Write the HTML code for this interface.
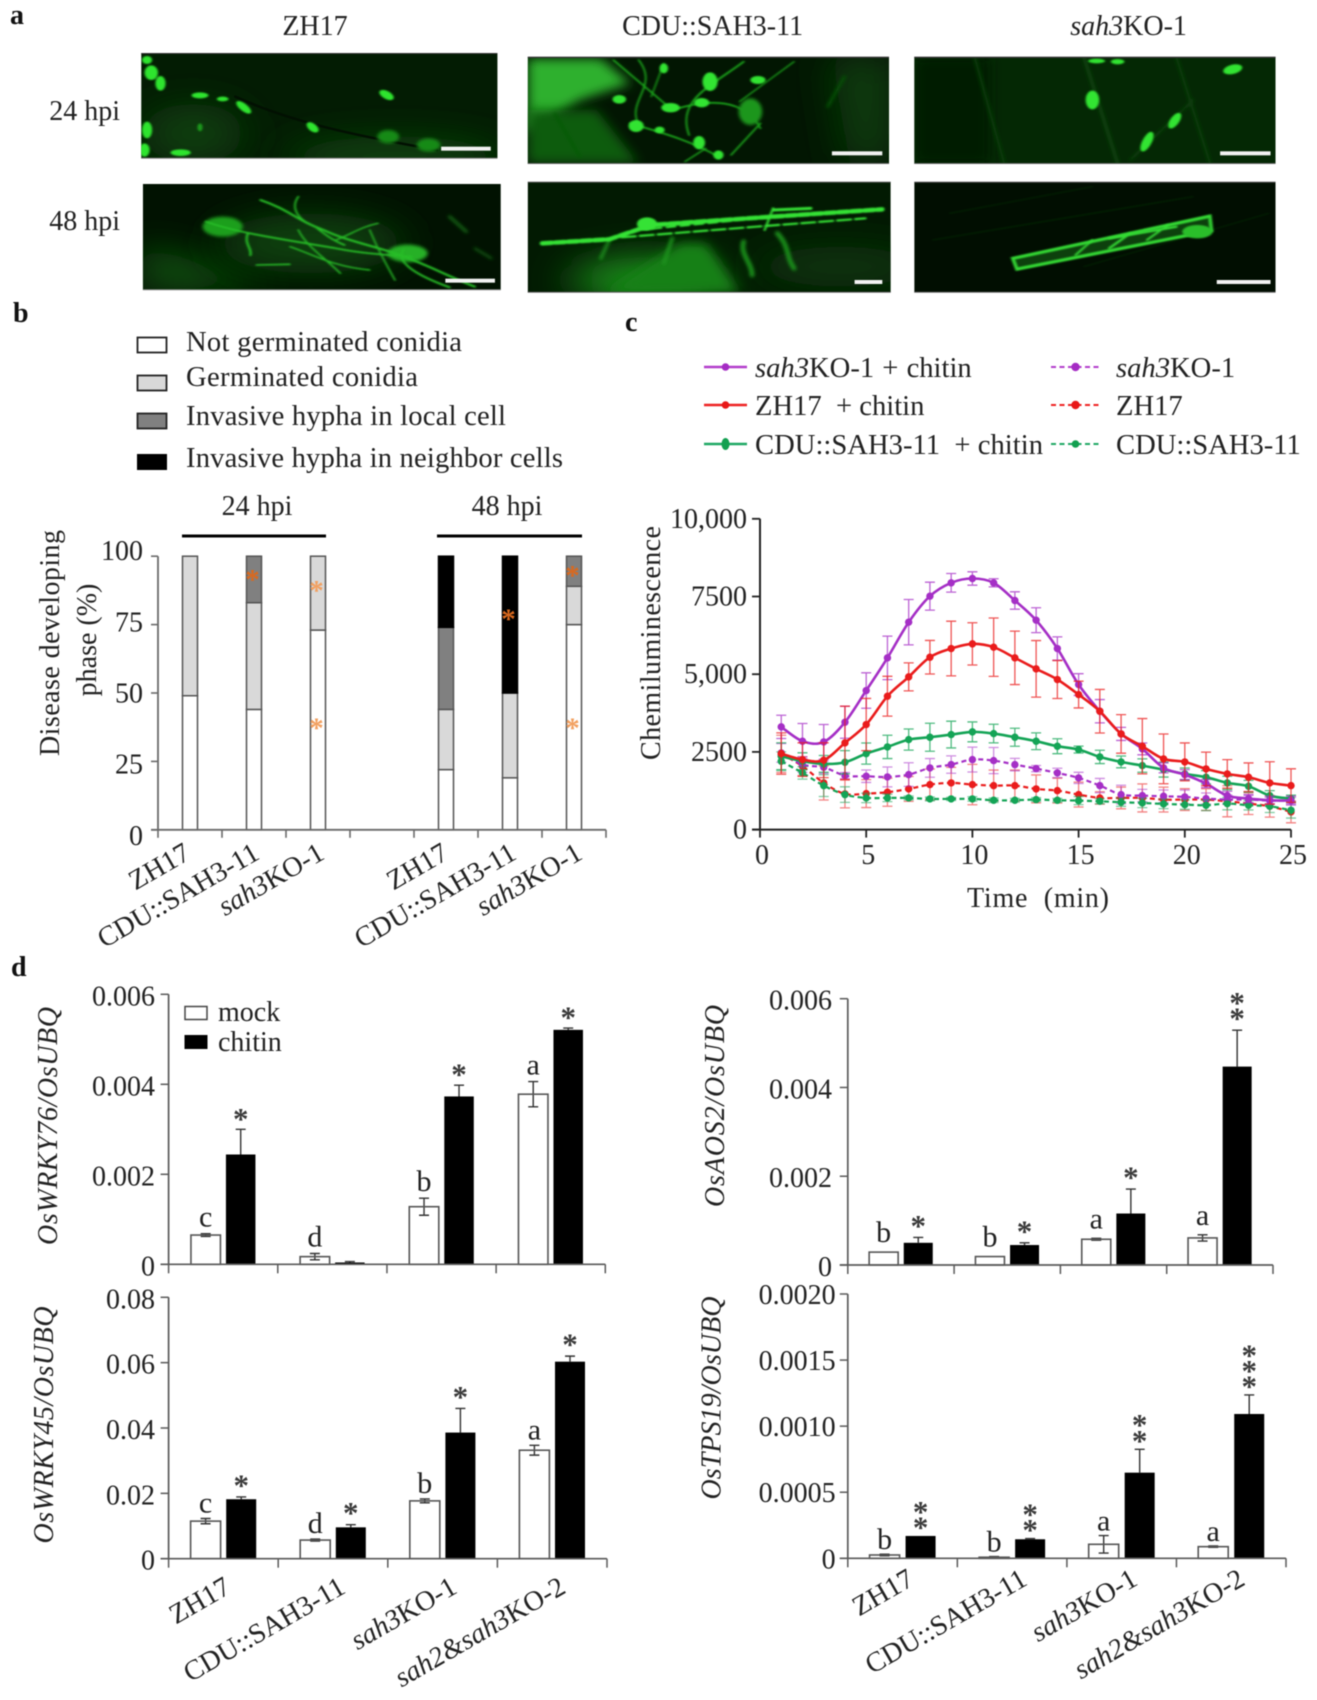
<!DOCTYPE html>
<html lang="en">
<head>
<meta charset="utf-8">
<title>Panels a-d figure</title>
<style>
html,body{margin:0;padding:0;background:#fff;}
svg{display:block;}
#figure{filter:blur(0.6px);font-family:"Liberation Serif","Noto Serif CJK SC",serif;fill:#222;}
text{font-size:28px;}
.bold{font-weight:bold;fill:#111;}
.lg{font-size:28.6px;}
.ms{vector-effect:non-scaling-stroke;fill:none;stroke-linecap:round;}
</style>
</head>
<body>
<svg id="figure" xmlns="http://www.w3.org/2000/svg" width="1317" height="1700" viewBox="0 0 1317 1700">
<defs>
<filter id="b0" x="-30%" y="-30%" width="160%" height="160%"><feGaussianBlur stdDeviation="1.2 2.6"/></filter>
<filter id="b1" x="-40%" y="-40%" width="180%" height="180%"><feGaussianBlur stdDeviation="2.2 5"/></filter>
<filter id="b2" x="-60%" y="-60%" width="220%" height="220%"><feGaussianBlur stdDeviation="7 16"/></filter>
<filter id="b3" x="-80%" y="-80%" width="260%" height="260%"><feGaussianBlur stdDeviation="26 50"/></filter>
<clipPath id="c1"><rect x="168" y="160" width="424" height="315"/></clipPath>
<clipPath id="c2"><rect x="628" y="172" width="430" height="319"/></clipPath>
<clipPath id="c3"><rect x="1088" y="172" width="430" height="319"/></clipPath>
<clipPath id="c4"><rect x="170" y="552" width="426" height="318"/></clipPath>
<clipPath id="c5"><rect x="628" y="547" width="432" height="330"/></clipPath>
<clipPath id="c6"><rect x="1088" y="547" width="430" height="330"/></clipPath>
</defs>
<rect width="1317" height="1700" fill="#fff"/>

<!-- Panel a -->
<g>
<text class="bold" x="10" y="24">a</text>
<text x="315" y="35" text-anchor="middle">ZH17</text>
<text x="712.6" y="35" text-anchor="middle">CDU::SAH3-11</text>
<text x="1128.6" y="35" text-anchor="middle"><tspan font-style="italic">sah3</tspan>KO-1</text>
<text x="120" y="120" text-anchor="end">24 hpi</text>
<text x="120" y="230" text-anchor="end">48 hpi</text>

<g transform="scale(0.8403,0.33333)">
<!-- image 1 -->
<g clip-path="url(#c1)">
<rect x="168" y="160" width="424" height="315" fill="#031c03"/>
<ellipse cx="470" cy="470" rx="130" ry="60" fill="#0a420a" filter="url(#b3)"/>
<ellipse cx="230" cy="400" rx="60" ry="90" fill="#0a3c0a" filter="url(#b3)"/>
<path class="ms" d="M280,290 C350,370 430,410 520,450" stroke="#021002" stroke-width="2.5"/>
<g fill="#2fe42f" filter="url(#b0)">
<ellipse cx="175" cy="180" rx="6" ry="12"/><ellipse cx="180" cy="218" rx="8" ry="22"/><ellipse cx="191" cy="250" rx="6" ry="22"/>
<ellipse cx="238" cy="286" rx="10" ry="9"/><ellipse cx="265" cy="297" rx="7" ry="7"/><ellipse cx="290" cy="322" rx="6" ry="20" transform="rotate(-20 290 322)"/>
<ellipse cx="460" cy="285" rx="7" ry="16" transform="rotate(-20 460 285)"/><ellipse cx="372" cy="382" rx="6" ry="16" transform="rotate(-15 372 382)"/>
<ellipse cx="175" cy="390" rx="6" ry="25"/><ellipse cx="172" cy="450" rx="6" ry="20"/><ellipse cx="215" cy="458" rx="12" ry="10"/>
</g>
<ellipse cx="238" cy="382" rx="3" ry="12" fill="#1a9a1a" filter="url(#b0)"/>
<g fill="#178a17" filter="url(#b1)"><ellipse cx="510" cy="435" rx="14" ry="20"/><ellipse cx="462" cy="410" rx="13" ry="20"/></g>
</g>
<rect x="168" y="159" width="424" height="3" fill="#333"/><rect x="168" y="473" width="424" height="3" fill="#777"/>
<rect x="525" y="440" width="59" height="12" fill="#f2f2f2"/>

<!-- image 2 -->
<g clip-path="url(#c2)">
<rect x="628" y="172" width="430" height="319" fill="#021602"/>
<polygon points="628,176 715,176 750,250 690,300 628,400" fill="#2fb02f" filter="url(#b2)"/>
<polygon points="628,330 710,330 760,490 628,490" fill="#0d5c0d" filter="url(#b2)"/>
<polygon points="990,172 1058,172 1058,490 1010,490" fill="#0a400a" filter="url(#b3)"/>
<g stroke="#1fb41f" filter="url(#b0)">
<path class="ms" stroke-width="1.5" d="M730,180 L800,330"/>
<path class="ms" stroke-width="1.6" d="M760,180 C785,260 745,300 760,375"/>
<path class="ms" stroke-width="1.8" d="M885,185 C845,260 805,300 820,405"/>
<path class="ms" stroke-width="1.6" d="M800,330 C845,295 885,295 905,385"/>
<path class="ms" stroke-width="1.6" d="M750,370 C790,400 820,420 855,470"/>
<path class="ms" stroke-width="1.2" d="M945,185 L880,305"/>
<path class="ms" stroke-width="1.6" d="M905,370 L870,465"/>
<path class="ms" stroke-width="1.3" d="M840,445 L815,485"/>
<path class="ms" stroke-width="1.3" d="M790,190 L775,290"/>
</g>
<g stroke="#0c5a0c" filter="url(#b1)"><path class="ms" stroke-width="2.5" d="M1005,230 L985,320"/><path class="ms" stroke-width="2" d="M660,340 L690,470"/></g>
<g fill="#33e433" filter="url(#b0)">
<ellipse cx="737" cy="298" rx="8" ry="13"/><ellipse cx="798" cy="323" rx="11" ry="14"/><ellipse cx="835" cy="308" rx="9" ry="14"/>
<ellipse cx="845" cy="245" rx="9" ry="28"/><ellipse cx="902" cy="240" rx="9" ry="12"/><ellipse cx="757" cy="378" rx="9" ry="18"/>
<ellipse cx="832" cy="428" rx="7" ry="20"/><ellipse cx="855" cy="465" rx="6" ry="14"/><ellipse cx="790" cy="205" rx="5" ry="15"/><ellipse cx="785" cy="390" rx="6" ry="10"/>
</g>
<ellipse cx="893" cy="335" rx="14" ry="40" fill="#1e961e" filter="url(#b1)"/>
</g>
<rect x="628" y="170" width="430" height="4" fill="#333"/><rect x="628" y="489" width="430" height="3" fill="#666"/>
<rect x="990" y="454" width="60" height="12" fill="#f2f2f2"/>

<!-- image 3 -->
<g clip-path="url(#c3)">
<rect x="1088" y="172" width="430" height="319" fill="#042804"/>
<rect x="1088" y="172" width="90" height="319" fill="#021a02" filter="url(#b2)"/>
<g stroke="#0a3f0a" filter="url(#b1)"><path class="ms" stroke-width="3" d="M1160,172 L1195,490"/><path class="ms" stroke-width="4" d="M1290,172 L1330,490"/><path class="ms" stroke-width="2.5" d="M1420,300 L1345,480"/><path class="ms" stroke-width="3" d="M1400,172 L1440,490"/></g>
<g fill="#30e430" filter="url(#b0)">
<ellipse cx="1305" cy="183" rx="10" ry="7"/><ellipse cx="1330" cy="185" rx="8" ry="8"/><ellipse cx="1467" cy="208" rx="10" ry="16" transform="rotate(25 1467 208)"/>
<ellipse cx="1300" cy="300" rx="8" ry="28"/><ellipse cx="1398" cy="362" rx="6" ry="24" transform="rotate(12 1398 362)"/><ellipse cx="1365" cy="425" rx="6" ry="30" transform="rotate(10 1365 425)"/>
</g>
</g>
<rect x="1088" y="170" width="430" height="4" fill="#333"/><rect x="1088" y="489" width="430" height="3" fill="#666"/>
<rect x="1452" y="454" width="60" height="12" fill="#f2f2f2"/>

<!-- image 4 -->
<g clip-path="url(#c4)">
<rect x="170" y="552" width="426" height="318" fill="#011201"/>
<polygon points="170,730 290,830 320,870 170,870" fill="#0f540f" filter="url(#b3)"/>
<ellipse cx="370" cy="730" rx="110" ry="90" fill="#0b3f0b" filter="url(#b3)"/>
<ellipse cx="265" cy="680" rx="24" ry="30" fill="#1f9f1f" filter="url(#b1)"/>
<ellipse cx="485" cy="760" rx="24" ry="26" fill="#27b027" filter="url(#b1)"/>
<g stroke="#27bd27" filter="url(#b0)">
<path class="ms" stroke-width="2.2" d="M310,600 C345,630 352,660 385,690 C410,720 440,735 470,760 C505,790 530,825 565,860"/>
<path class="ms" stroke-width="1.8" d="M355,590 C345,625 355,660 375,680 C385,700 395,720 410,735"/>
<path class="ms" stroke-width="1.8" d="M245,665 C285,700 330,715 400,745 C430,760 460,765 490,770"/>
<path class="ms" stroke-width="2.4" d="M295,700 C290,730 300,745 298,765"/>
<path class="ms" stroke-width="2" d="M480,750 C470,790 500,830 535,862"/>
<path class="ms" stroke-width="1.6" d="M305,795 L345,793"/>
<path class="ms" stroke-width="1.6" d="M440,690 C445,720 450,750 470,840"/>
<path class="ms" stroke-width="1.6" d="M355,690 C365,740 385,770 405,820"/>
<path class="ms" stroke-width="1.4" d="M400,720 C420,700 430,680 450,670"/>
<path class="ms" stroke-width="1.4" d="M345,740 C370,760 395,800 440,810"/>
</g>
<g stroke="#126412" filter="url(#b1)"><path class="ms" stroke-width="3" d="M535,650 L555,695"/><path class="ms" stroke-width="2" d="M565,745 L585,775"/></g>
</g>
<rect x="170" y="868" width="426" height="3" fill="#999"/>
<rect x="530" y="836" width="59" height="12" fill="#f2f2f2"/>

<!-- image 5 -->
<g clip-path="url(#c5)">
<rect x="628" y="547" width="432" height="330" fill="#021a02"/>
<ellipse cx="770" cy="840" rx="90" ry="70" fill="#1f8f1f" filter="url(#b3)"/>
<polygon points="810,730 840,730 880,877 720,877" fill="#178017" filter="url(#b2)"/>
<ellipse cx="1000" cy="800" rx="100" ry="60" fill="#083408" filter="url(#b3)"/>
<g stroke="#1b941b" filter="url(#b1)">
<path class="ms" stroke-width="4.5" d="M885,725 C880,760 895,790 895,825"/><path class="ms" stroke-width="4.5" d="M925,700 C940,740 935,770 945,805"/><path class="ms" stroke-width="3.5" d="M800,715 L790,790"/><path class="ms" stroke-width="3" d="M725,720 L715,775"/>
</g>
<g stroke="#34e234" filter="url(#b0)">
<path class="ms" stroke-width="4.5" stroke-dasharray="10 3" d="M645,730 L725,718 L775,675 L920,650 L1050,628"/>
<path class="ms" stroke-width="2.2" stroke-dasharray="14 4" d="M740,712 L900,680 L1030,655"/>
<path class="ms" stroke-width="2" stroke-dasharray="9 5" d="M760,690 L880,660"/>
<path class="ms" stroke-width="3" d="M920,630 L965,625"/>
<path class="ms" stroke-width="2.2" d="M920,625 L910,690"/>
</g>
<ellipse cx="770" cy="672" rx="12" ry="20" fill="#34e234" filter="url(#b0)"/>
</g>
<rect x="628" y="545" width="432" height="3" fill="#555"/><rect x="628" y="875" width="432" height="3" fill="#555"/>
<rect x="1017" y="840" width="33" height="12" fill="#f2f2f2"/>

<!-- image 6 -->
<g clip-path="url(#c6)">
<rect x="1088" y="547" width="430" height="330" fill="#010e01"/>
<g stroke="#062606" filter="url(#b0)"><path class="ms" stroke-width="1" d="M1130,640 L1300,560"/><path class="ms" stroke-width="1" d="M1110,720 L1420,590"/><path class="ms" stroke-width="1" d="M1290,800 L1510,640"/></g>
<path d="M1205,775 L1440,648 L1442,692 L1210,808 Z" fill="#0b3f0c" stroke="#34dc34" stroke-width="3" vector-effect="non-scaling-stroke" filter="url(#b0)"/>
<g stroke="#34dc34" filter="url(#b0)"><path class="ms" stroke-width="2" d="M1300,720 L1280,765"/><path class="ms" stroke-width="2.4" d="M1345,700 L1320,745"/><path class="ms" stroke-width="2" d="M1390,675 L1365,720"/><path class="ms" stroke-width="2.4" d="M1320,715 L1400,680"/></g>
<ellipse cx="1425" cy="695" rx="18" ry="20" fill="#2cbe2c" filter="url(#b0)"/>
</g>
<rect x="1088" y="545" width="430" height="3" fill="#555"/><rect x="1088" y="875" width="430" height="3" fill="#555"/>
<rect x="1448" y="840" width="64" height="12" fill="#f2f2f2"/>
</g>
</g>

<!-- Panel b static -->
<g>
<text class="bold" x="13" y="322">b</text>
<rect x="137.5" y="337.5" width="29" height="15" fill="#fff" stroke="#222" stroke-width="1.8"/>
<text class="lg" x="186" y="351" textLength="276">Not germinated conidia</text>
<rect x="137.5" y="375.5" width="29" height="15" fill="#d9d9d9" stroke="#222" stroke-width="1.8"/>
<text class="lg" x="186" y="386" textLength="232">Germinated conidia</text>
<rect x="137.5" y="413.5" width="29" height="15" fill="#808080" stroke="#222" stroke-width="1.8"/>
<text class="lg" x="186" y="425" textLength="320">Invasive hypha in local cell</text>
<rect x="137" y="454" width="30" height="16" fill="#000"/>
<text class="lg" x="186" y="467" textLength="377">Invasive hypha in neighbor cells</text>
<text x="257" y="515" text-anchor="middle">24 hpi</text>
<text x="507" y="515" text-anchor="middle">48 hpi</text>
<rect x="182" y="534.5" width="144" height="3" fill="#000"/>
<rect x="437" y="534.5" width="145" height="3" fill="#000"/>
<text transform="translate(59,643) rotate(-90)" text-anchor="middle" textLength="226">Disease developing</text>
<text transform="translate(96,640) rotate(-90)" text-anchor="middle">phase (%)</text>
</g>

<!-- Panel c static -->
<g>
<text class="bold" x="625" y="331">c</text>
<g><line x1="704" x2="747" y1="367" y2="367" stroke="#b33dcc" stroke-width="2.4"/><circle cx="725.5" cy="367" r="3.8" fill="#a52cc4"/><text class="lg" x="755" y="377" word-spacing="1"><tspan font-style="italic">sah3</tspan>KO-1 + chitin</text></g>
<g><line x1="704" x2="747" y1="405" y2="405" stroke="#ee2222" stroke-width="2.4"/><circle cx="725.5" cy="405" r="3.8" fill="#e81818"/><text class="lg" x="755" y="415" xml:space="preserve">ZH17  + chitin</text></g>
<g><line x1="704" x2="747" y1="444" y2="444" stroke="#1fa864" stroke-width="2.4"/><ellipse cx="725.5" cy="444" rx="4" ry="6" fill="#12a050"/><text class="lg" x="755" y="454" xml:space="preserve" textLength="288">CDU::SAH3-11  + chitin</text></g>
<g><line x1="1051" x2="1100" y1="367" y2="367" stroke="#b33dcc" stroke-width="2" stroke-dasharray="5 3.5"/><circle cx="1075.5" cy="367" r="4.2" fill="#a52cc4"/><text class="lg" x="1116" y="377"><tspan font-style="italic">sah3</tspan>KO-1</text></g>
<g><line x1="1051" x2="1100" y1="405" y2="405" stroke="#ee2222" stroke-width="2" stroke-dasharray="5 3.5"/><circle cx="1075.5" cy="405" r="4.2" fill="#e81818"/><text class="lg" x="1116" y="415">ZH17</text></g>
<g><line x1="1051" x2="1100" y1="444" y2="444" stroke="#1fa864" stroke-width="2" stroke-dasharray="5 3.5"/><circle cx="1075.5" cy="444" r="3.8" fill="#12a050"/><text class="lg" x="1116" y="454">CDU::SAH3-11</text></g>
<text transform="translate(660,643) rotate(-90)" text-anchor="middle" textLength="234">Chemiluminescence</text>
<text x="1038" y="907" text-anchor="middle" xml:space="preserve" textLength="142">Time  (min)</text>
</g>

<!-- Panel d static -->
<g>
<text class="bold" x="11" y="976">d</text>
<rect x="185" y="1006.5" width="22" height="13" fill="#fff" stroke="#444" stroke-width="1.5"/>
<text x="218" y="1021">mock</text>
<rect x="184.5" y="1035" width="23" height="14" fill="#000"/>
<text x="218" y="1051">chitin</text>
</g>

<g id="charts"></g>
</svg>

<script>
/* ---------- Panel b data ---------- */
const stageGroups = ['ZH17', 'CDU::SAH3-11', 'sah3KO-1', 'ZH17', 'CDU::SAH3-11', 'sah3KO-1'];
const stageSlots = [0, 1, 2, 4, 5, 6];
const notGerminated = [49, 44, 73, 22, 19, 75];
const germinated = [51, 39, 27, 22, 31, 14];
const localCell = [0, 17, 0, 30, 0, 11];
const neighborCells = [0, 0, 0, 26, 50, 0];
const stageStars = [[], [93], [89, 38.6], [], [78.5], [94.4, 38.6]];
const stageTicks = [0, 25, 50, 75, 100];

/* ---------- Panel c data ---------- */
const timePoints = [1,2,3,4,5,6,7,8,9,10,11,12,13,14,15,16,17,18,19,20,21,22,23,24,25];
const sahChitin = [3305,2843,2822,3455,4474,5526,6674,7511,7940,8079,7940,7371,6738,5826,4667,3809,3079,2597,1985,1770,1481,1094,998,944,933];
const sahChitinErr = [375,570,560,515,570,700,730,450,300,215,130,280,400,375,350,375,210,190,160,160,130,140,130,130,140];
const zhChitin = [2446,2253,2232,2790,3380,4292,4914,5547,5826,5976,5869,5526,5172,4828,4345,3809,3079,2682,2275,2178,1953,1792,1685,1502,1416];
const zhChitinErr = [665,540,560,1180,840,640,450,540,880,680,940,860,910,610,430,700,620,890,800,610,540,460,460,680,540];
const cduChitin = [2360,2200,2114,2167,2446,2661,2897,2972,3058,3144,3090,2972,2843,2682,2575,2339,2178,2060,1931,1792,1685,1502,1395,1094,998];
const cduChitinErr = [430,270,270,375,340,375,340,450,430,320,300,290,270,240,110,215,190,215,240,190,215,215,190,160,110];
const sahMock = [2468,2092,2006,1738,1717,1695,1770,1985,2092,2253,2221,2092,1963,1824,1663,1416,1127,1094,1073,1052,998,966,966,933,933];
const sahMockErr = [300,250,200,100,200,320,380,300,280,400,420,200,100,150,180,230,300,200,200,220,180,150,130,100,100];
const zhMock = [2436,2039,1502,1148,1159,1202,1309,1449,1502,1449,1416,1416,1309,1255,1127,1019,1019,1019,966,966,966,912,837,751,569];
const zhMockErr = [600,300,550,450,450,450,400,500,500,650,500,500,450,400,400,200,350,450,400,350,350,500,350,350,350];
const cduMock = [2200,1824,1416,1127,1019,1019,1019,987,987,987,944,944,966,944,933,912,880,858,826,805,783,837,783,751,622];
const cduMockErr = [300,200,350,250,150,120,60,60,50,70,70,60,60,60,130,80,130,150,150,150,170,200,150,200,250];
const chemiTicks = [0, 2500, 5000, 7500, 10000];
const chemiTickLabels = ['0', '2500', '5,000', '7500', '10,000'];
const timeTicks = [0, 5, 10, 15, 20, 25];

/* ---------- Panel d data ---------- */
const lineCategories = ['ZH17', 'CDU::SAH3-11', 'sah3KO-1', 'sah2&sah3KO-2'];

const wrky76Mock = [0.00065, 0.00017, 0.00128, 0.00378];
const wrky76MockErr = [0.00003, 0.00007, 0.00019, 0.00028];
const wrky76Chitin = [0.00244, 0.00004, 0.00373, 0.00521];
const wrky76ChitinErr = [0.00056, 0.00002, 0.00025, 0.00004];
const wrky76Letters = ['c', 'd', 'b', 'a'];
const wrky76Stars = [1, 0, 1, 1];
const wrky76Ticks = [0, 0.002, 0.004, 0.006];
const wrky76TickLabels = ['0', '0.002', '0.004', '0.006'];

const wrky45Mock = [0.0115, 0.0057, 0.0177, 0.0332];
const wrky45MockErr = [0.0008, 0.0003, 0.0006, 0.0015];
const wrky45Chitin = [0.0182, 0.0096, 0.0386, 0.0603];
const wrky45ChitinErr = [0.0007, 0.0008, 0.0074, 0.0017];
const wrky45Letters = ['c', 'd', 'b', 'a'];
const wrky45Stars = [1, 1, 1, 1];
const wrky45Ticks = [0, 0.02, 0.04, 0.06, 0.08];
const wrky45TickLabels = ['0', '0.02', '0.04', '0.06', '0.08'];

const aos2Mock = [0.00029, 0.00019, 0.00058, 0.00061];
const aos2MockErr = [0, 0, 0.00002, 0.00007];
const aos2Chitin = [0.0005, 0.00045, 0.00116, 0.00447];
const aos2ChitinErr = [0.00012, 0.00005, 0.00055, 0.00082];
const aos2Letters = ['b', 'b', 'a', 'a'];
const aos2Stars = [1, 1, 1, 2];
const aos2Ticks = [0, 0.002, 0.004, 0.006];
const aos2TickLabels = ['0', '0.002', '0.004', '0.006'];

const tps19Mock = [0.000025, 0.000008, 0.000106, 0.000088];
const tps19MockErr = [0.000006, 0.000005, 0.000066, 0.000005];
const tps19Chitin = [0.000169, 0.000144, 0.000648, 0.001092];
const tps19ChitinErr = [0, 0.000005, 0.000177, 0.000144];
const tps19Letters = ['b', 'b', 'a', 'a'];
const tps19Stars = [2, 2, 2, 3];
const tps19Ticks = [0, 0.0005, 0.001, 0.0015, 0.002];
const tps19TickLabels = ['0', '0.0005', '0.0010', '0.0015', '0.0020'];

/* ---------- Helpers ---------- */
const NS = 'http://www.w3.org/2000/svg';
const chartsRoot = document.getElementById('charts');

function add(parent, tag, attrs, text) {
  const el = document.createElementNS(NS, tag);
  for (const k in attrs) el.setAttribute(k, attrs[k]);
  if (text !== undefined) el.textContent = text;
  parent.appendChild(el);
  return el;
}
function richText(el, str) {
  str.split(/(sah\d(?:&sah\d)?)/).forEach(function (part) {
    if (!part) return;
    const t = document.createElementNS(NS, 'tspan');
    if (/^sah\d/.test(part)) t.setAttribute('font-style', 'italic');
    t.textContent = part;
    el.appendChild(t);
  });
}
function linScale(d0, d1, r0, r1) {
  return function (v) { return r0 + (v - d0) * (r1 - r0) / (d1 - d0); };
}
function smoothPath(pts) {
  let d = 'M' + pts[0][0].toFixed(1) + ',' + pts[0][1].toFixed(1);
  for (let i = 0; i < pts.length - 1; i++) {
    const p0 = pts[Math.max(i - 1, 0)], p1 = pts[i], p2 = pts[i + 1], p3 = pts[Math.min(i + 2, pts.length - 1)];
    d += ' C' + (p1[0] + (p2[0] - p0[0]) / 6).toFixed(1) + ',' + (p1[1] + (p2[1] - p0[1]) / 6).toFixed(1) +
         ' ' + (p2[0] - (p3[0] - p1[0]) / 6).toFixed(1) + ',' + (p2[1] - (p3[1] - p1[1]) / 6).toFixed(1) +
         ' ' + p2[0].toFixed(1) + ',' + p2[1].toFixed(1);
  }
  return d;
}

/* ---------- Panel b chart ---------- */
(function () {
  const g = add(chartsRoot, 'g', {});
  
  
  const axisX = 158, axisEnd = 606, band = (axisEnd - axisX) / 7;
  const y = linScale(0, 100, 829.8, 556.2);
  const barW = 15;
  const segColors = ['#ffffff', '#d9d9d9', '#808080', '#000000'];
  const segSeries = [notGerminated, germinated, localCell, neighborCells];
  const labelEnd = [192, 261, 326, 450, 518, 584];

  stageGroups.forEach(function (name, i) {
    const cx = axisX + band * (stageSlots[i] + 0.5);
    let base = 0;
    segSeries.forEach(function (series, s) {
      const v = series[i];
      if (v <= 0) return;
      const seg = add(g, 'rect', {
        x: cx - barW / 2, y: y(base + v), width: barW, height: y(base) - y(base + v),
        fill: segColors[s], stroke: s === 3 ? '#000' : '#555', 'stroke-width': 1.5
      });
      
      
      base += v;
    });
    stageStars[i].forEach(function (v) {
      const st = add(g, 'text', {
        x: cx - 1.5, y: y(v) + 13.5, 'text-anchor': 'middle', style: 'font-weight:bold;fill:' + (v > 75 && i !== 2 ? '#d9691f' : '#f2a060') + ';font-size:29px'
      }, '*');
      
      
    });
    const lab = add(g, 'text', {
      transform: 'translate(' + labelEnd[i] + ',858) rotate(-30)', 'text-anchor': 'end'
    });
    richText(lab, name);
    
    
  });

  const yAxis = add(g, 'line', { x1: axisX, x2: axisX, y1: y(100), y2: y(0), stroke: '#6a6a6a', 'stroke-width': 1.8 });
  
  
  const xAxis = add(g, 'line', { x1: axisX - 7, x2: axisEnd, y1: y(0), y2: y(0), stroke: '#6a6a6a', 'stroke-width': 1.8 });
  
  
  for (let i = 0; i <= 7; i++) {
    const t = add(g, 'line', { x1: axisX + band * i, x2: axisX + band * i, y1: y(0), y2: y(0) + 8, stroke: '#6a6a6a', 'stroke-width': 1.6 });
    
    
  }
  stageTicks.forEach(function (v) {
    const t = add(g, 'line', { x1: axisX - 7, x2: axisX, y1: y(v), y2: y(v), stroke: '#6a6a6a', 'stroke-width': 1.6 });
    
    
    const l = add(g, 'text', { x: 143, y: y(v) + 15 - 11 * v / 100, 'text-anchor': 'end' }, String(v));
    
    
  });
})();

/* ---------- Panel c chart ---------- */
(function () {
  const g = add(chartsRoot, 'g', {});
  
  
  const x = linScale(0, 25, 760, 1291);
  const y = linScale(0, 10000, 829.6, 518.8);
  const capHalf = 5;

  function series(name, values, errs, color, dashed) {
    const sg = add(g, 'g', {});
    
    
    values.forEach(function (v, i) {
      const cx = x(timePoints[i]), hi = y(v + errs[i]), lo = y(v - errs[i]);
      const eb = add(sg, 'path', {
        d: 'M' + cx + ',' + hi + 'V' + lo + 'M' + (cx - capHalf) + ',' + hi + 'H' + (cx + capHalf) + 'M' + (cx - capHalf) + ',' + lo + 'H' + (cx + capHalf),
        fill: 'none', stroke: color, 'stroke-width': 1.3, opacity: dashed ? 0.55 : 0.75
      });
      
      
    });
    const pts = values.map(function (v, i) { return [x(timePoints[i]), y(v)]; });
    const line = add(sg, 'path', {
      d: smoothPath(pts), fill: 'none', stroke: color, 'stroke-width': dashed ? 2.2 : 2.6, 'stroke-dasharray': dashed ? '5 3.5' : 'none'
    });
    
    
    values.forEach(function (v, i) {
      const pt = add(sg, 'circle', { cx: x(timePoints[i]), cy: y(v), r: 3.7, fill: color });
      
      
    });
  }
  const PURPLE = '#a52fc6', RED = '#ea1c1c', GREEN = '#14a456';
  series('zh17', zhMock, zhMockErr, RED, true);
  series('sah3ko1', sahMock, sahMockErr, PURPLE, true);
  series('cdu', cduMock, cduMockErr, GREEN, true);
  series('cdu-chitin', cduChitin, cduChitinErr, GREEN, false);
  series('sah3ko1-chitin', sahChitin, sahChitinErr, PURPLE, false);
  series('zh17-chitin', zhChitin, zhChitinErr, RED, false);

  const yAxis = add(g, 'line', { x1: x(0), x2: x(0), y1: y(10000), y2: y(0), stroke: '#222', 'stroke-width': 2 });
  
  
  const xAxis = add(g, 'line', { x1: x(0) - 8, x2: x(25), y1: y(0), y2: y(0), stroke: '#222', 'stroke-width': 2 });
  
  
  chemiTicks.forEach(function (v, i) {
    const t = add(g, 'line', { x1: x(0) - 8, x2: x(0), y1: y(v), y2: y(v), stroke: '#222', 'stroke-width': 1.8 });
    
    
    const l = add(g, 'text', { x: 747, y: y(v) + 9, 'text-anchor': 'end' }, chemiTickLabels[i]);
    
    
  });
  timeTicks.forEach(function (v) {
    const t = add(g, 'line', { x1: x(v), x2: x(v), y1: y(0), y2: y(0) + 8, stroke: '#222', 'stroke-width': 1.8 });
    
    
    const l = add(g, 'text', { x: x(v) + 2, y: 864, 'text-anchor': 'middle' }, String(v));
    
    
  });
})();

/* ---------- Panel d charts ---------- */
function barChart(o) {
  const g = add(chartsRoot, 'g', {});
  
  
  const n = o.mock.length;
  const band = (o.xEnd - o.xStart) / n;
  const y = linScale(0, o.ticks[o.ticks.length - 1], o.yZero, o.yTop);
  const AX = '#5a5a5a';

  o.mock.forEach(function (v, i) {
    const center = o.xStart + band * (i + 0.5);
    const mx = center - o.offset, cx = center + o.offset;
    const w = o.barW;
    const c = o.chitin[i], ce = o.chitinErr[i], me = o.mockErr[i];

    if (me > 0) {
      const eb = add(g, 'path', {
        d: 'M' + mx + ',' + y(v + me) + 'V' + y(Math.max(v - me, 0)) +
           'M' + (mx - 5) + ',' + y(v + me) + 'H' + (mx + 5) +
           'M' + (mx - 5) + ',' + y(Math.max(v - me, 0)) + 'H' + (mx + 5),
        fill: 'none', stroke: '#333', 'stroke-width': 1.4
      });
      
      
    }
    const mb = add(g, 'rect', { x: mx - w / 2, y: y(v), width: w, height: y(0) - y(v), fill: 'none', stroke: '#555', 'stroke-width': 1.6 });
    
    

    if (ce > 0) {
      const eb = add(g, 'path', {
        d: 'M' + cx + ',' + y(c + ce) + 'V' + y(c) + 'M' + (cx - 5) + ',' + y(c + ce) + 'H' + (cx + 5),
        fill: 'none', stroke: '#333', 'stroke-width': 1.4
      });
      
      
    }
    const cb = add(g, 'rect', { x: cx - w / 2, y: y(c), width: w, height: y(0) - y(c), fill: '#000' });
    
    

    const lt = add(g, 'text', { x: mx, y: y(v + me) - o.letterGap, 'text-anchor': 'middle', style: 'font-size:30px' }, o.letters[i]);
    
    

    for (let s = 0; s < o.stars[i]; s++) {
      const st = add(g, 'text', {
        x: cx, y: y(c + ce) - o.starGap - s * 15.6 + 14.5, 'text-anchor': 'middle', style: 'fill:#3a3a3a;font-size:31px;font-weight:bold'
      }, '*');
      
      
    }

    if (o.labelDx) {
      const lab = add(g, 'text', {
        transform: 'translate(' + (center + o.labelDx[i]) + ',' + o.labelY + ') rotate(-30)', 'text-anchor': 'end'
      });
      richText(lab, o.categories[i]);
      
      
    }
  });

  const yAxis = add(g, 'line', { x1: o.xStart, x2: o.xStart, y1: o.yTop, y2: o.yZero, stroke: AX, 'stroke-width': 1.7 });
  
  
  const xAxis = add(g, 'line', { x1: o.xStart - 8, x2: o.xEnd, y1: o.yZero, y2: o.yZero, stroke: AX, 'stroke-width': 1.7 });
  
  
  for (let i = 0; i <= n; i++) {
    const t = add(g, 'line', { x1: o.xStart + band * i, x2: o.xStart + band * i, y1: o.yZero, y2: o.yZero + 9, stroke: AX, 'stroke-width': 1.5 });
    
    
  }
  o.ticks.forEach(function (v, i) {
    const t = add(g, 'line', { x1: o.xStart - 8, x2: o.xStart, y1: y(v), y2: y(v), stroke: AX, 'stroke-width': 1.5 });
    
    
    const l = add(g, 'text', { x: o.tickEnd, y: y(v) + o.tickDy, 'text-anchor': 'end' }, o.tickLabels[i]);
    
    
  });
  const title = add(g, 'text', {
    transform: 'translate(' + o.titleX + ',' + o.titleY + ') rotate(-90)', 'text-anchor': 'middle', 'font-style': 'italic', textLength: o.titleLen
  }, o.title);
  
  
}

barChart({
  name: 'oswrky76-chart', title: 'OsWRKY76/OsUBQ', titleX: 57, titleY: 1126, titleLen: 238,
  xStart: 168.6, xEnd: 605.3, yZero: 1264.3, yTop: 994.3, offset: 17.5, barW: 29.5, tickEnd: 155, tickDy: 11,
  mock: wrky76Mock, mockErr: wrky76MockErr, chitin: wrky76Chitin, chitinErr: wrky76ChitinErr,
  letters: wrky76Letters, stars: wrky76Stars, ticks: wrky76Ticks, tickLabels: wrky76TickLabels,
  letterGap: 7, starGap: 15
});
barChart({
  name: 'oswrky45-chart', title: 'OsWRKY45/OsUBQ', titleX: 53, titleY: 1425, titleLen: 237,
  xStart: 168.6, xEnd: 607, yZero: 1558.7, yTop: 1297.3, offset: 17.8, barW: 30, tickEnd: 155, tickDy: 11,
  mock: wrky45Mock, mockErr: wrky45MockErr, chitin: wrky45Chitin, chitinErr: wrky45ChitinErr,
  letters: wrky45Letters, stars: wrky45Stars, ticks: wrky45Ticks, tickLabels: wrky45TickLabels,
  letterGap: 6, starGap: 16,
  categories: lineCategories, labelDx: [9, 14, 16, 15], labelY: 1592
});
barChart({
  name: 'osaos2-chart', title: 'OsAOS2/OsUBQ', titleX: 724, titleY: 1106, titleLen: 202,
  xStart: 847.8, xEnd: 1273, yZero: 1265, yTop: 998.7, offset: 17.3, barW: 29, tickEnd: 832, tickDy: 11,
  mock: aos2Mock, mockErr: aos2MockErr, chitin: aos2Chitin, chitinErr: aos2ChitinErr,
  letters: aos2Letters, stars: aos2Stars, ticks: aos2Ticks, tickLabels: aos2TickLabels,
  letterGap: 10, starGap: 16
});
barChart({
  name: 'ostps19-chart', title: 'OsTPS19/OsUBQ', titleX: 720.6, titleY: 1398, titleLen: 203,
  xStart: 847.8, xEnd: 1286, yZero: 1558.3, yTop: 1294, offset: 18, barW: 30, tickEnd: 835.6, tickDy: 10,
  mock: tps19Mock, mockErr: tps19MockErr, chitin: tps19Chitin, chitinErr: tps19ChitinErr,
  letters: tps19Letters, stars: tps19Stars, ticks: tps19Ticks, tickLabels: tps19TickLabels,
  letterGap: 5, starGap: 13,
  categories: lineCategories, labelDx: [13, 16.6, 17.4, 15.3], labelY: 1584
});
</script>
</body>
</html>
